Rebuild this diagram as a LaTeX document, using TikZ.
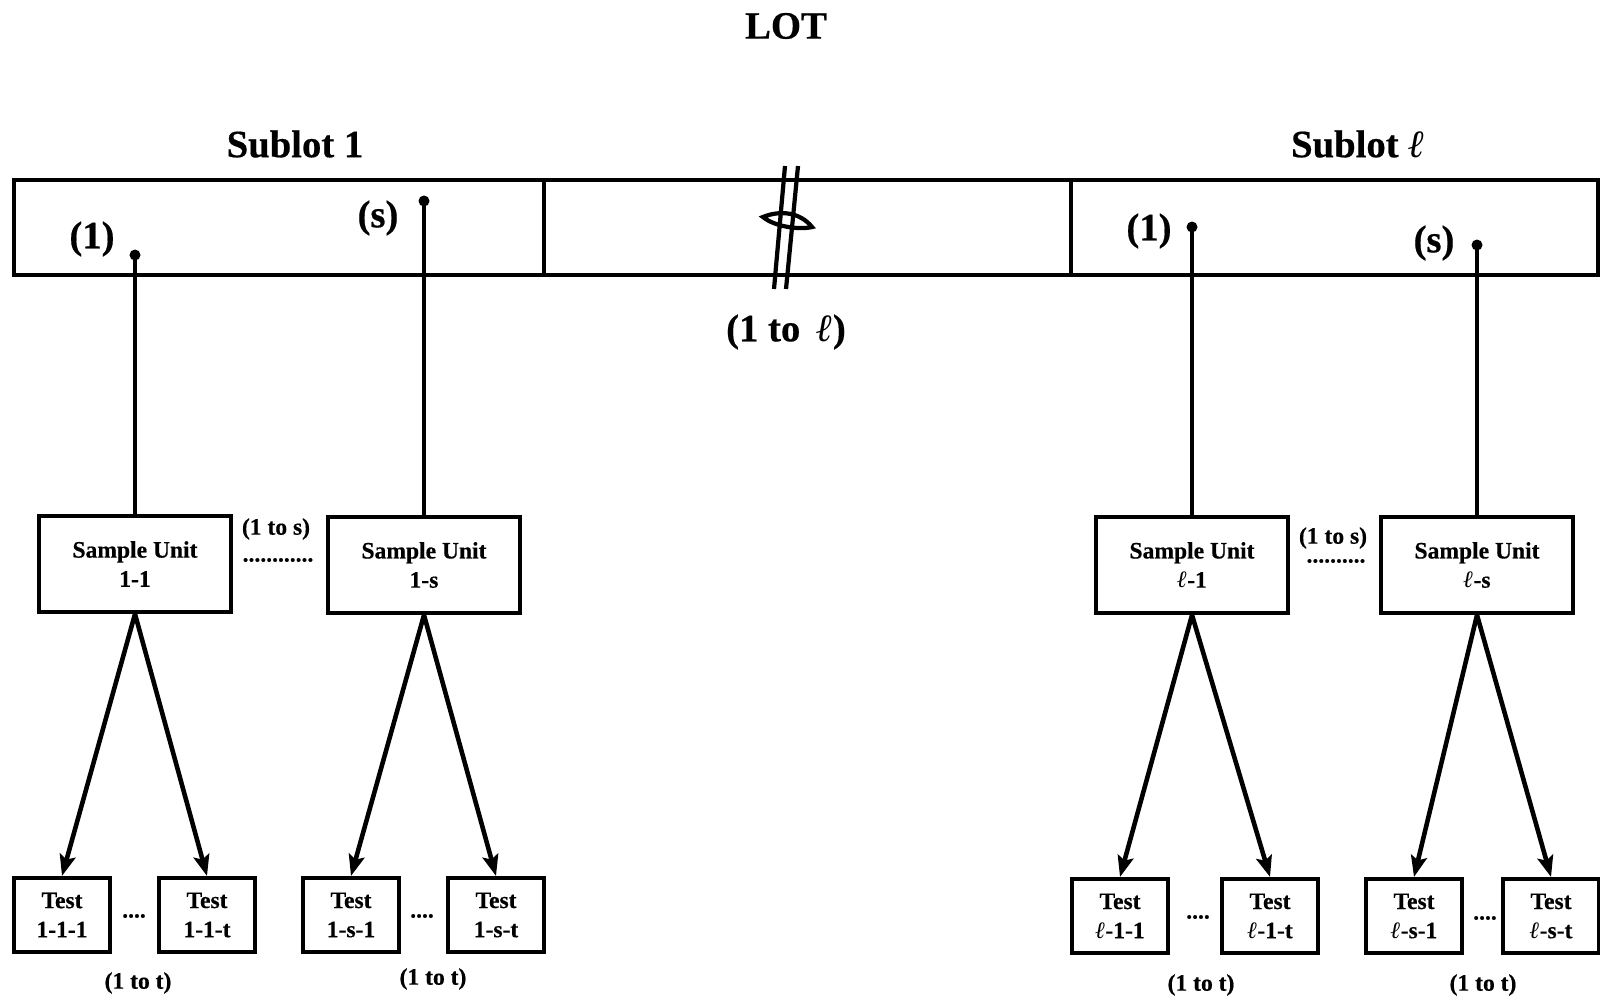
\documentclass[tikz,border=0pt]{standalone}
\usepackage{fontspec}
\setmainfont{Liberation Serif}[BoldFeatures={FakeBold=0.5}]
\usetikzlibrary{arrows.meta}

\tikzset{
  unitbox/.style={draw, line width=1.15pt, minimum width=1.92cm, minimum height=0.96cm,
    inner sep=0pt, align=center, font=\bfseries\fontsize{6.7}{8.3}\selectfont},
  testbox/.style={unitbox, minimum width=0.96cm, minimum height=0.74cm},
  biglabel/.style={font=\bfseries\fontsize{11}{13}\selectfont},
  smalllabel/.style={font=\bfseries\fontsize{6.7}{8}\selectfont, inner sep=0pt},
  stem/.style={line width=1pt},
  branch/.style={line width=1.3pt, -{Stealth[length=0.21cm, width=0.16cm, inset=0.04cm]}}
}

\begin{document}
\begin{tikzpicture}[x=0.01cm, y=-0.01cm]
\useasboundingbox (0,0) rectangle (1600,1000);

% the lot, cut into sublots
\draw [stem] (14,180) rectangle (1598,275);
\draw [stem] (544,180) -- (544,275);
\draw [stem] (1071,180) -- (1071,275);

% break mark
\draw [line width=1.2pt] (785,166) -- (774,289);
\draw [line width=1.2pt] (798,166) -- (786,289);
\draw [line width=1.2pt] (763,217) .. controls (780,210) and (800,212) .. (812,227) .. controls (800,230) and (775,227) .. cycle;

\node [biglabel] (lot) at (786,26) {LOT};
\node [biglabel] (sub1) at (295,144) {Sublot 1};
\node [biglabel] (subl) at (1358,144) {Sublot \textit{ℓ}};
\node [biglabel] (range) at (786,332) {(1 to \,\textit{ℓ})};

\node [biglabel] (pos11) at (92,239) {(1)};
\node [biglabel] (pos1s) at (378,218) {(s)};
\node [biglabel] (posl1) at (1149,231) {(1)};
\node [biglabel] (posls) at (1434,243) {(s)};

% sample units
\node [unitbox] (su11) at (135,564) {Sample Unit\\1-1};
\node [unitbox] (su1s) at (424,565) {Sample Unit\\1-s};
\node [unitbox] (sul1) at (1192,565) {Sample Unit\\\textit{ℓ}-1};
\node [unitbox] (suls) at (1477,565) {Sample Unit\\\textit{ℓ}-s};

\foreach \u/\h in {su11/255, su1s/201, sul1/227, suls/245} {
  \coordinate (pin-\u) at (\u.north |- 0,\h);
  \draw [stem] (pin-\u) -- (\u.north);
  \fill (pin-\u) circle [radius=0.055cm];
}

\node [smalllabel] (us1) at (276,529) {(1 to s)};
\node [smalllabel] (ud1) at (278,560) {............};
\node [smalllabel] (us2) at (1333,538) {(1 to s)};
\node [smalllabel] (ud2) at (1336,561) {..........};

% tests
\node [testbox] (t111) at (62,915) {Test\\1-1-1};
\node [testbox] (t11t) at (207,915) {Test\\1-1-t};
\node [testbox] (t1s1) at (351,915) {Test\\1-s-1};
\node [testbox] (t1st) at (496,915) {Test\\1-s-t};
\node [testbox] (tl11) at (1120,916) {Test\\\textit{ℓ}-1-1};
\node [testbox] (tl1t) at (1270,916) {Test\\\textit{ℓ}-1-t};
\node [testbox] (tls1) at (1414,916) {Test\\\textit{ℓ}-s-1};
\node [testbox] (tlst) at (1551,916) {Test\\\textit{ℓ}-s-t};

\foreach \u/\a/\b in {su11/t111/t11t, su1s/t1s1/t1st, sul1/tl11/tl1t, suls/tls1/tlst} {
  \draw [branch] (\u.south) -- (\a.north);
  \draw [branch] (\u.south) -- (\b.north);
}

\node [smalllabel] (td1) at (134,916) {....};
\node [smalllabel] (td2) at (422,916) {....};
\node [smalllabel] (td3) at (1198,917) {....};
\node [smalllabel] (td4) at (1485,918) {....};

\node [smalllabel] (tr1) at (138,983) {(1 to t)};
\node [smalllabel] (tr2) at (433,979) {(1 to t)};
\node [smalllabel] (tr3) at (1201,985) {(1 to t)};
\node [smalllabel] (tr4) at (1483,985) {(1 to t)};

\end{tikzpicture}
\end{document}
